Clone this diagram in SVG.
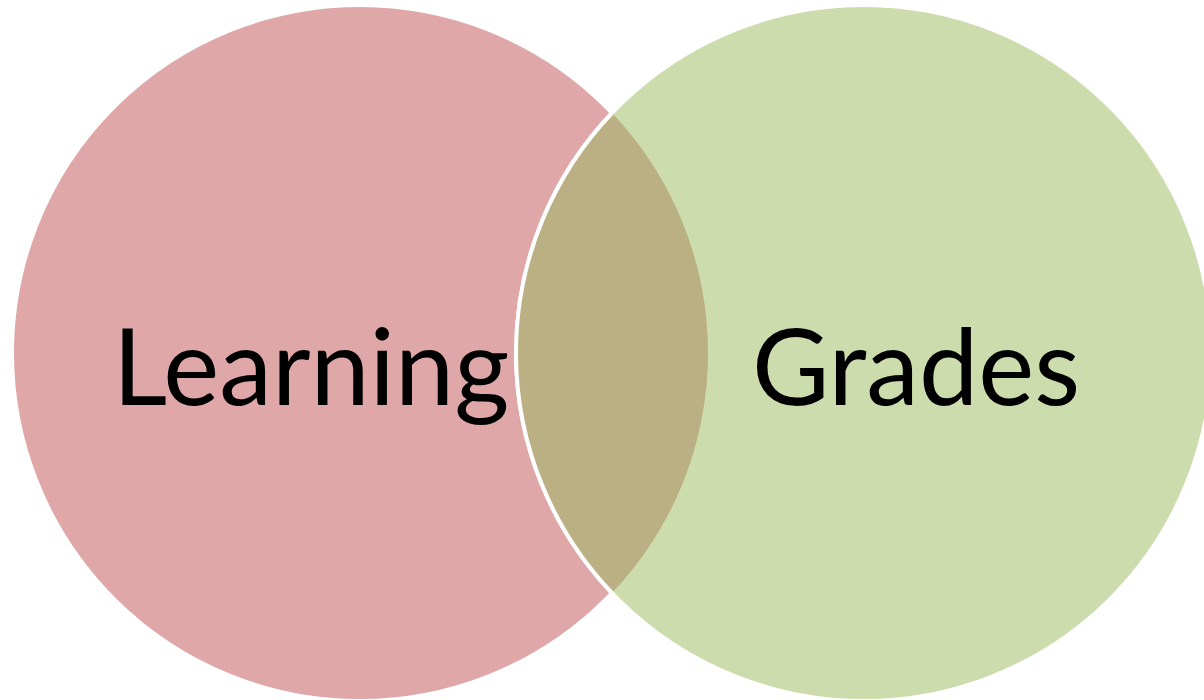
<svg xmlns="http://www.w3.org/2000/svg" width="1204" height="700" viewBox="0 0 1204 700">
  <style>
    .label { font-family: Lato, "Open Sans", "Liberation Sans", sans-serif; font-size: 106px; fill: #000000; text-anchor: middle; }
  </style>
  <rect width="1204" height="700" fill="#ffffff"/>
  <g id="learning">
    <circle cx="360" cy="353" r="348" fill="#DFA7A7" stroke="#ffffff" stroke-width="4"/>
  </g>
  <g id="grades">
    <circle cx="864" cy="353" r="348" fill="#CDDCAC" stroke="#ffffff" stroke-width="4"/>
  </g>
  <g id="overlap">
    <!-- lens shared by both circles -->
    <path d="M 612 113 A 348 348 0 0 1 612 593 A 348 348 0 0 1 612 113 Z" fill="#BBB083"/>
    <path d="M 612 113 A 348 348 0 0 0 612 593" fill="none" stroke="#ffffff" stroke-width="4"/>
  </g>
  <g id="labels">
    <text class="label" x="311" y="405">Learning</text>
    <text class="label" x="916" y="405">Grades</text>
  </g>
</svg>
